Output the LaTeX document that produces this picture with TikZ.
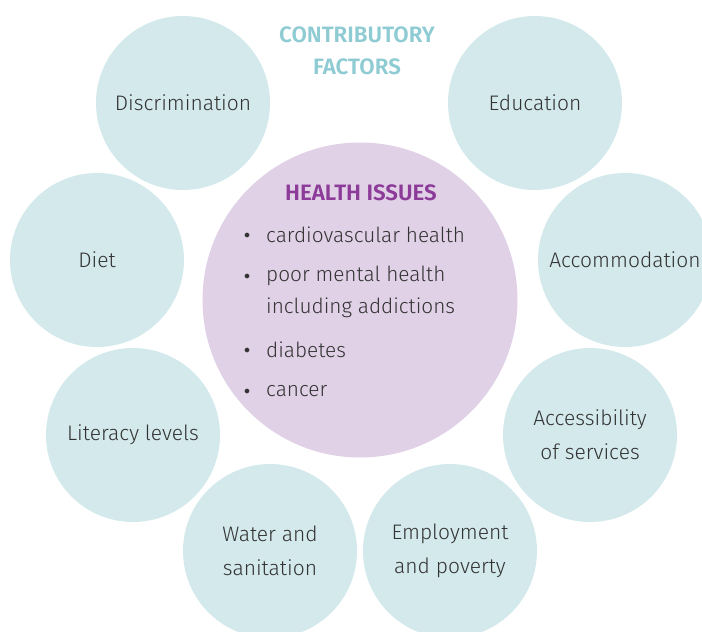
\documentclass[tikz,border=0pt]{standalone}
\usepackage{fontspec}
\setmainfont{Fira Sans}[UprightFont={* Light}, BoldFont={* SemiBold}]
\definecolor{factorbg}{HTML}{D4E9EC}
\definecolor{issuebg}{HTML}{E0D1E7}
\definecolor{factortitle}{HTML}{8ECBD3}
\definecolor{issuetitle}{HTML}{8C3B98}
\definecolor{darktext}{HTML}{333333}
\tikzset{
  factor/.style={
    circle, fill=factorbg, draw=none,
    minimum size=174pt, inner sep=0pt,
    align=center, font=\fontsize{21}{34}\selectfont,
    text=darktext
  },
  issues/.style={
    circle, fill=issuebg, draw=none,
    minimum size=315pt, inner sep=0pt
  },
  heading/.style={font=\fontsize{22.3}{32}\selectfont\bfseries, align=center},
  item/.style={anchor=west, align=left, text=darktext,
    font=\fontsize{20.8}{32}\selectfont, inner sep=0pt},
  dot/.style={text=darktext, font=\fontsize{13}{13}\selectfont, inner sep=0pt}
}
\begin{document}
\begin{tikzpicture}[x=1pt, y=-1pt]

  \useasboundingbox (0,0) rectangle (702,632);
  \clip (0,0) rectangle (702,632);

  % Contributory factors
  \node[factor] (discr)  at (183,103) {Discrimination};
  \node[factor] (educ)   at (535,103) {Education};
  \node[factor] (diet)   at (97,260)  {Diet};
  \node[factor] (accom)  at (625,260) {Accommodation};
  \node[factor] (literacy) at (133,435) {Literacy levels};
  \node[factor] (access) at (590,435) {Accessibility\\of services};
  \node[factor] (water)  at (270,551) {Water and\\sanitation};
  \node[factor] (employ) at (450,551) {Employment\\and poverty};

  \node[heading, text=factortitle] (factorlbl) at (357,51)
    {CONTRIBUTORY\\FACTORS};

  % Health issues
  \node[issues] (health) at (360,300) {};
  \node[heading, text=issuetitle] (healthlbl) at (361,193) {HEALTH ISSUES};

  \node[dot] (b1) at (247,236) {$\bullet$};
  \node[dot] (b2) at (247,277) {$\bullet$};
  \node[dot] (b3) at (247,351) {$\bullet$};
  \node[dot] (b4) at (247,392) {$\bullet$};

  \node[item] (cardio) at (266,235) {cardiovascular health};
  \node[item] (mental) at (266,292) {poor mental health\\including addictions};
  \node[item] (diab)   at (266,350) {diabetes};
  \node[item] (cancer) at (266,391) {cancer};

\end{tikzpicture}
\end{document}
